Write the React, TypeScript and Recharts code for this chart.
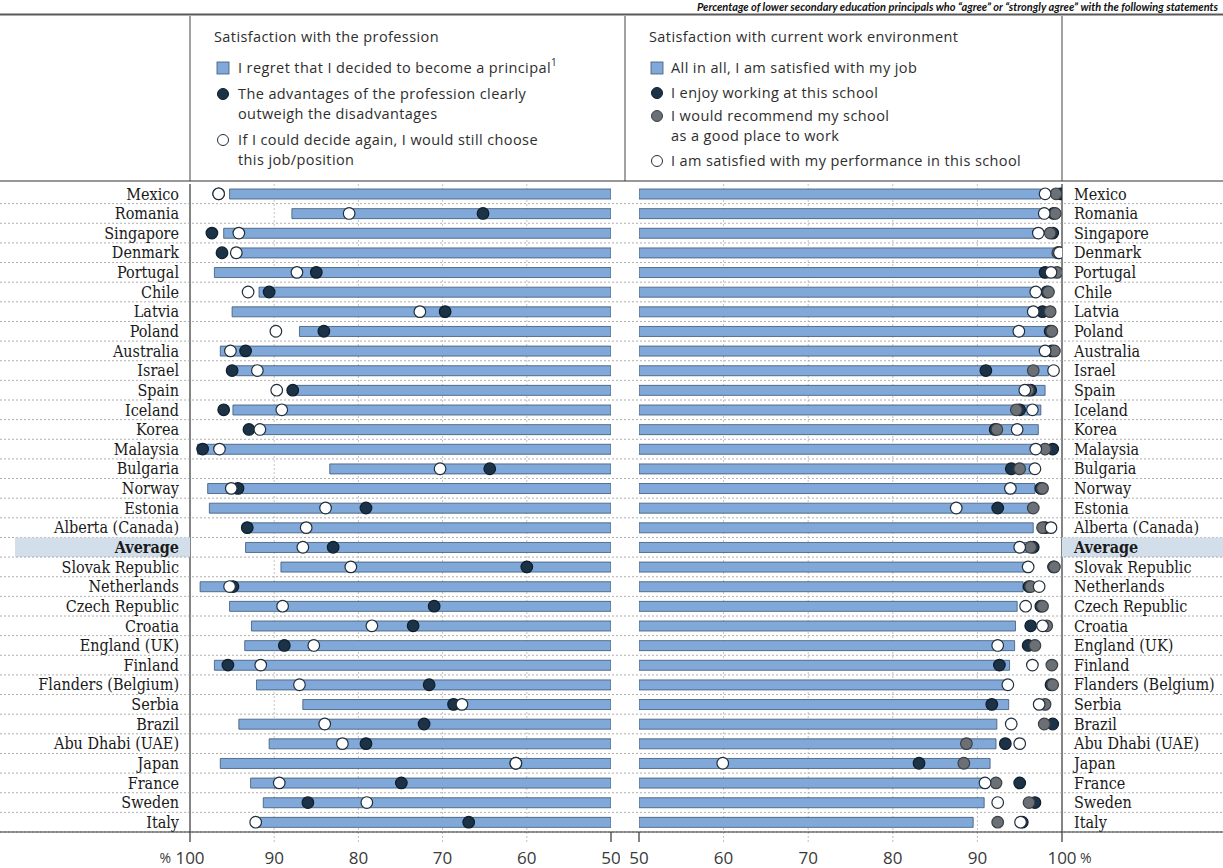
import React from 'react';
import { ComposedChart, Bar, Line, XAxis, YAxis, CartesianGrid } from 'recharts';

const countries = [
  'Mexico', 'Romania', 'Singapore', 'Denmark', 'Portugal', 'Chile', 'Latvia', 'Poland', 'Australia',
  'Israel', 'Spain', 'Iceland', 'Korea', 'Malaysia', 'Bulgaria', 'Norway', 'Estonia', 'Alberta (Canada)',
  'Average', 'Slovak Republic', 'Netherlands', 'Czech Republic', 'Croatia', 'England (UK)', 'Finland',
  'Flanders (Belgium)', 'Serbia', 'Brazil', 'Abu Dhabi (UAE)', 'Japan', 'France', 'Sweden', 'Italy',
];

// Satisfaction with the profession (left panel, reversed scale)
const regretPrincipal = [
  95.3, 87.9, 96.0, 95.0, 97.1, 91.8, 95.0, 87.0, 96.4,
  94.5, 87.6, 94.9, 91.3, 99.1, 83.4, 97.9, 97.7, 93.2,
  93.4, 89.2, 98.8, 95.3, 92.7, 93.5, 97.1,
  92.1, 86.6, 94.2, 90.6, 96.4, 92.8, 91.3, 92.0,
];
const advantagesOutweigh = [
  96.6, 65.2, 97.4, 96.2, 85.0, 90.6, 69.7, 84.1, 93.4,
  95.0, 87.8, 96.0, 93.0, 98.5, 64.4, 94.3, 79.1, 93.2,
  83.0, 60.0, 94.9, 71.0, 73.5, 88.8, 95.5,
  71.6, 68.7, 72.2, 79.1, 61.3, 74.9, 86.0, 66.9,
];
const chooseAgain = [
  96.6, 81.1, 94.2, 94.5, 87.3, 93.1, 72.7, 89.8, 95.2,
  92.0, 89.7, 89.1, 91.7, 96.5, 70.3, 95.1, 83.9, 86.2,
  86.6, 80.9, 95.3, 89.0, 78.4, 85.3, 91.6,
  87.0, 67.7, 84.0, 81.9, 61.3, 89.4, 79.0, 92.2,
];

// Satisfaction with current work environment (right panel)
const satisfiedJob = [
  97.5, 97.5, 97.0, 99.4, 98.4, 97.0, 96.6, 98.4, 98.0,
  98.4, 98.0, 97.5, 97.2, 96.6, 96.6, 96.8, 96.6, 96.6,
  96.1, 95.9, 95.4, 94.7, 94.5, 94.4, 93.8,
  93.3, 93.7, 92.3, 92.2, 91.5, 90.8, 90.8, 89.5,
];
const enjoySchool = [
  99.8, 99.0, 98.9, 99.6, 98.0, 98.2, 97.7, 98.6, 98.8,
  91.0, 96.3, 95.0, 92.1, 98.9, 94.0, 97.5, 92.4, 98.0,
  96.6, 99.0, 96.1, 97.5, 96.3, 96.0, 92.6,
  98.7, 91.7, 98.9, 93.3, 83.1, 95.0, 96.8, 95.3,
];
const recommendSchool = [
  99.3, 99.2, 98.6, 99.5, 99.4, 98.4, 98.6, 98.8, 99.1,
  96.6, 96.0, 94.6, 92.3, 98.0, 95.0, 97.7, 96.6, 97.7,
  96.3, 99.1, 96.3, 97.7, 98.2, 96.8, 98.8,
  98.9, 98.0, 97.9, 88.7, 88.4, 92.2, 96.1, 92.4,
];
const satisfiedPerformance = [
  98.0, 97.9, 97.2, 99.7, 98.7, 96.9, 96.6, 94.9, 98.0,
  99.0, 95.6, 96.5, 94.7, 96.9, 96.8, 93.9, 87.5, 98.7,
  95.0, 96.0, 97.3, 95.7, 97.7, 92.4, 96.5,
  93.6, 97.3, 94.0, 95.0, 59.9, 90.9, 92.4, 95.1,
];

const axisTicks = [50, 60, 70, 80, 90, 100];
const gridValues = [60, 70, 80, 90];

const rows = countries.map((country, i) => ({
  country,
  regretRange: [50, regretPrincipal[i]],
  advantages: advantagesOutweigh[i],
  choose: chooseAgain[i],
  jobRange: [50, satisfiedJob[i]],
  enjoy: enjoySchool[i],
  recommend: recommendSchool[i],
  performance: satisfiedPerformance[i],
}));

const BAR_FILL = '#80a9da';
const BAR_STROKE = '#3c5572';
const DARK = '#1c3246';
const GREY = '#6a7075';
const HIGHLIGHT = '#d3deeb';
const SEP = '#9a9a9a';
const LABEL_FONT = "'DejaVu Serif Condensed', 'DejaVu Serif', serif";
const SANS = "'Open Sans', 'Lato', sans-serif";

const makeDot = (fill: string, stroke: string) => (props: any) => {
  const { cx, cy, index } = props;
  if (cx == null || cy == null) return <g key={`e${index}`} />;
  return <circle key={`d${index}`} cx={cx} cy={cy} r={5.8} fill={fill} stroke={stroke} strokeWidth={1.2} />;
};
const darkDot = makeDot(DARK, '#0f1e2c');
const greyDot = makeDot(GREY, '#3c4044');
const whiteDot = makeDot('#ffffff', '#22303d');

const LeftLabel = (props: any) => {
  const { x, y, payload } = props;
  const half = payload && payload.offset ? payload.offset : 9.8;
  const isAvg = payload.value === 'Average';
  return (
    <g>
      {isAvg && <rect x={15} y={y - half} width={x - 15} height={half * 2} fill={HIGHLIGHT} />}
      <line x1={0} x2={620} y1={y + half} y2={y + half} stroke={SEP} strokeDasharray="2 2" strokeWidth={0.8} />
      <text x={x - 11} y={y} dy="0.36em" textAnchor="end" fontFamily={LABEL_FONT} fontSize={16}
        fontWeight={isAvg ? 700 : 400} fill="#1a1a1a">{payload.value}</text>
    </g>
  );
};

const RightLabel = (props: any) => {
  const { x, y, payload } = props;
  const half = payload && payload.offset ? payload.offset : 9.8;
  const isAvg = payload.value === 'Average';
  return (
    <g>
      {isAvg && <rect x={x} y={y - half} width={170} height={half * 2} fill={HIGHLIGHT} />}
      <line x1={0} x2={610} y1={y + half} y2={y + half} stroke={SEP} strokeDasharray="2 2" strokeWidth={0.8} />
      <text x={x + 12} y={y} dy="0.36em" textAnchor="start" fontFamily={LABEL_FONT} fontSize={16}
        fontWeight={isAvg ? 700 : 400} fill="#1a1a1a">{payload.value}</text>
    </g>
  );
};

const makeBottomTick = (side: 'left' | 'right') => (props: any) => {
  const { x, y, payload } = props;
  const v = payload.value;
  const solid = v === 50 || v === 100;
  return (
    <g>
      <line x1={x} x2={x} y1={y} y2={y + 10} stroke={solid ? '#333' : '#bdbdbd'}
        strokeDasharray={solid ? undefined : '2 2'} strokeWidth={solid ? 1.2 : 1} />
      <text x={x} y={y + 26} dy="0.36em" textAnchor="middle" fontFamily={SANS} fontSize={17} fill="#3a3a3a">{v}</text>
      {v === 100 && side === 'left' && (
        <text x={x - 19} y={y + 26} dy="0.36em" textAnchor="end" fontFamily={SANS} fontSize={14} fill="#3a3a3a">%</text>
      )}
      {v === 100 && side === 'right' && (
        <text x={x + 18} y={y + 26} dy="0.36em" textAnchor="start" fontFamily={SANS} fontSize={14} fill="#3a3a3a">%</text>
      )}
    </g>
  );
};
const leftTick = makeBottomTick('left');
const rightTick = makeBottomTick('right');

const LegendSquare = ({ x, y }: { x: number; y: number }) => (
  <rect x={x - 6} y={y - 6} width={12} height={12} fill={BAR_FILL} stroke={BAR_STROKE} strokeWidth={0.8} />
);

const Overlay = () => {
  const txt = { fontFamily: SANS, fontSize: 14.5, letterSpacing: 0.4, fill: '#2e2e2e' } as const;
  return (
    <svg width={1223} height={868} style={{ position: 'absolute', left: 0, top: 0, pointerEvents: 'none' }}>
      <text x={1218} y={11} textAnchor="end" fontFamily="'Lato', sans-serif" fontStyle="italic" fontWeight={700}
        fontSize={11} fill="#111">Percentage of lower secondary education principals who “agree” or “strongly agree” with the following statements</text>
      <line x1={0} x2={1223} y1={14.5} y2={14.5} stroke="#5a5a5a" strokeWidth={2.2} />
      <line x1={190} x2={190} y1={16} y2={181} stroke="#444" strokeWidth={1} />
      <line x1={625} x2={625} y1={16} y2={181} stroke="#444" strokeWidth={1} />
      <line x1={1062} x2={1062} y1={16} y2={181} stroke="#444" strokeWidth={1} />
      <line x1={0} x2={1223} y1={181} y2={181} stroke="#333" strokeWidth={1.2} />
      <line x1={0} x2={1223} y1={832} y2={832} stroke="#333" strokeWidth={1.2} />

      <text x={214} y={37} dy="0.36em" {...txt}>Satisfaction with the profession</text>
      <LegendSquare x={223} y={68} />
      <text x={238} y={68} dy="0.36em" {...txt}>I regret that I decided to become a principal<tspan dy={-7} fontSize={10}>1</tspan></text>
      <circle cx={223} cy={94} r={5.5} fill={DARK} stroke="#0f1e2c" />
      <text x={238} y={94} dy="0.36em" {...txt}>The advantages of the profession clearly</text>
      <text x={238} y={114} dy="0.36em" {...txt}>outweigh the disadvantages</text>
      <circle cx={223} cy={140} r={5.5} fill="#fff" stroke="#22303d" />
      <text x={238} y={140} dy="0.36em" {...txt}>If I could decide again, I would still choose</text>
      <text x={238} y={160} dy="0.36em" {...txt}>this job/position</text>

      <text x={649} y={37} dy="0.36em" {...txt}>Satisfaction with current work environment</text>
      <LegendSquare x={657} y={68} />
      <text x={671} y={68} dy="0.36em" {...txt}>All in all, I am satisfied with my job</text>
      <circle cx={657} cy={93} r={5.5} fill={DARK} stroke="#0f1e2c" />
      <text x={671} y={93} dy="0.36em" {...txt}>I enjoy working at this school</text>
      <circle cx={657} cy={116} r={5.5} fill={GREY} stroke="#3c4044" />
      <text x={671} y={116} dy="0.36em" {...txt}>I would recommend my school</text>
      <text x={671} y={136} dy="0.36em" {...txt}>as a good place to work</text>
      <circle cx={657} cy={161} r={5.5} fill="#fff" stroke="#22303d" />
      <text x={671} y={161} dy="0.36em" {...txt}>I am satisfied with my performance in this school</text>
    </svg>
  );
};

export default function App() {
  return (
    <div style={{ position: 'absolute', left: 0, top: 0, width: 1223, height: 868, background: '#fff', overflow: 'hidden' }}>
      <div style={{ position: 'absolute', left: 0, top: 0 }}>
        <ComposedChart width={620} height={868} layout="vertical" data={rows}
          margin={{ top: 184, right: 9, bottom: 6, left: 0 }}>
          <CartesianGrid horizontal={false} vertical verticalValues={gridValues} stroke="#c4c4c4" strokeDasharray="2 2" />
          <XAxis type="number" domain={[50, 100]} reversed ticks={axisTicks} allowDataOverflow
            height={30} tickSize={0} tickMargin={0} axisLine={false} tickLine={false} tick={leftTick} interval={0} />
          <YAxis type="category" dataKey="country" width={190} interval={0} tickSize={0} tickMargin={0}
            tickLine={false} axisLine={{ stroke: '#333', strokeWidth: 1.2 }} tick={<LeftLabel />} />
          <Bar dataKey="regretRange" barSize={10} fill={BAR_FILL} stroke={BAR_STROKE} strokeWidth={0.8} isAnimationActive={false} />
          <Line dataKey="advantages" stroke="none" dot={darkDot} activeDot={false} isAnimationActive={false} />
          <Line dataKey="choose" stroke="none" dot={whiteDot} activeDot={false} isAnimationActive={false} />
        </ComposedChart>
      </div>
      <div style={{ position: 'absolute', left: 620, top: 0 }}>
        <ComposedChart width={603} height={868} layout="vertical" data={rows}
          margin={{ top: 184, right: 0, bottom: 6, left: 19 }}>
          <CartesianGrid horizontal={false} vertical verticalValues={gridValues} stroke="#c4c4c4" strokeDasharray="2 2" />
          <XAxis type="number" domain={[50, 100]} ticks={axisTicks} allowDataOverflow
            height={30} tickSize={0} tickMargin={0} axisLine={false} tickLine={false} tick={rightTick} interval={0} />
          <YAxis type="category" dataKey="country" orientation="right" width={161} interval={0} tickSize={0} tickMargin={0}
            tickLine={false} axisLine={{ stroke: '#333', strokeWidth: 1.2 }} tick={<RightLabel />} />
          <Bar dataKey="jobRange" barSize={10} fill={BAR_FILL} stroke={BAR_STROKE} strokeWidth={0.8} isAnimationActive={false} />
          <Line dataKey="enjoy" stroke="none" dot={darkDot} activeDot={false} isAnimationActive={false} />
          <Line dataKey="recommend" stroke="none" dot={greyDot} activeDot={false} isAnimationActive={false} />
          <Line dataKey="performance" stroke="none" dot={whiteDot} activeDot={false} isAnimationActive={false} />
        </ComposedChart>
      </div>
      <Overlay />
    </div>
  );
}
